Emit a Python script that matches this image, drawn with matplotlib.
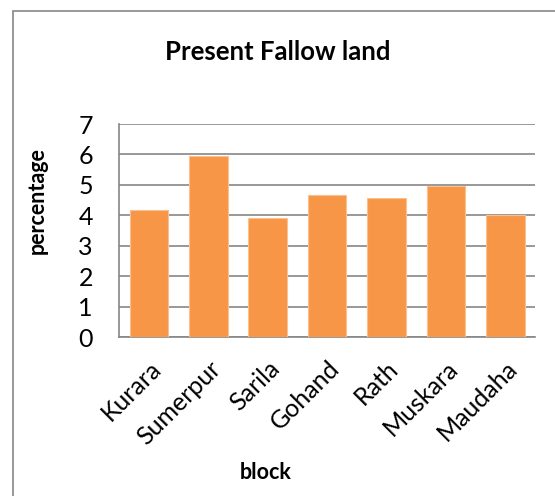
import matplotlib.pyplot as plt
import matplotlib.patches as patches

# --- data ---
blocks = ["Kurara", "Sumerpur", "Sarila", "Gohand", "Rath", "Muskara", "Maudaha"]
fallow_pct = [4.18, 5.94, 3.90, 4.66, 4.58, 4.96, 4.00]

BAR_COLOR = "#F79646"
GRID_COLOR = "#868686"
FONT = ["Lato", "DejaVu Sans"]

plt.rcParams["font.family"] = FONT

fig = plt.figure(figsize=(5.55, 4.96), dpi=100)

# chart frame
frame = patches.Rectangle((13 / 555, -0.1), 1.2, 1 - 11 / 496 + 0.1,
                          transform=fig.transFigure, fill=False,
                          edgecolor=GRID_COLOR, linewidth=1.2)
fig.patches.append(frame)

ax = fig.add_axes([0.215, 0.32, 0.749, 0.43])
x = range(len(blocks))
ax.bar(x, fallow_pct, width=0.65, color=BAR_COLOR, edgecolor="#FAC090",
       linewidth=0.8, zorder=3)

ax.set_xlim(-0.5, len(blocks) - 0.5)
ax.set_ylim(0, 7)
ax.set_yticks(range(0, 8))
ax.grid(axis="y", color=GRID_COLOR, linewidth=1.2, zorder=0)
ax.tick_params(axis="y", length=0, labelsize=18, pad=19)
ax.tick_params(axis="x", length=0, pad=14)

for side in ["top", "right"]:
    ax.spines[side].set_visible(False)
for side in ["left", "bottom"]:
    ax.spines[side].set_color(GRID_COLOR)
    ax.spines[side].set_linewidth(1.2)

ax.set_xticks(list(x))
ax.set_xticklabels(blocks, rotation=45, ha="right", rotation_mode="anchor",
                   fontsize=18)

fig.text(0.5, 0.895, "Present Fallow land", ha="center", va="center",
         fontsize=18.5, fontweight="bold")
fig.text(0.068, 0.595, "percentage", rotation=90, ha="center", va="center",
         fontsize=15.5, fontweight="bold")
fig.text(0.478, 0.048, "block", ha="center", va="center",
         fontsize=15.5, fontweight="bold")

fig.savefig("out.png", dpi=100)
